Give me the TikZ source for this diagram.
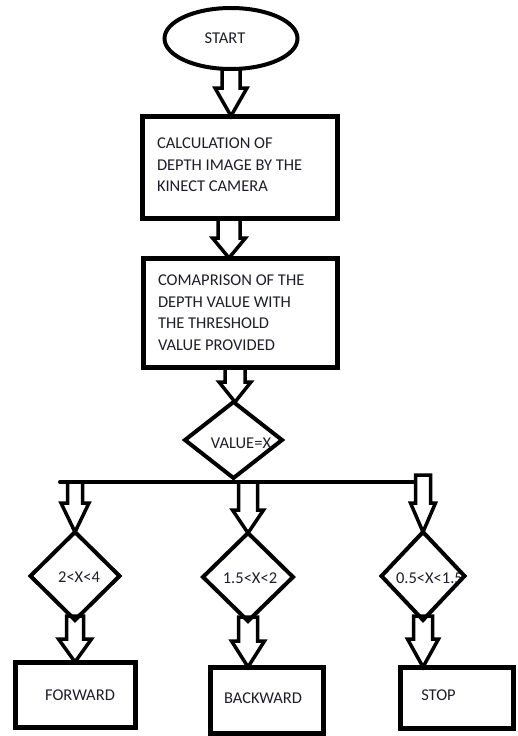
\documentclass[tikz,border=0pt]{standalone}
\usepackage{fontspec}
\setmainfont{Carlito}
\usetikzlibrary{shapes.geometric,calc}
\definecolor{textc}{RGB}{30,30,42}
\tikzset{
  bordr/.style={draw=black, line width=5pt, rectangle, inner sep=0pt, outer sep=0pt},
  dia/.style={draw=black, line width=4pt, diamond, inner sep=0pt, outer sep=0pt, line join=miter},
  ell/.style={draw=black, line width=4pt, ellipse, inner sep=0pt, outer sep=0pt},
  lbl/.style={text=textc, font=\fontsize{16.5}{21.5}\selectfont, inner sep=0pt, outer sep=0pt},
  barrow/.style={draw=black, line width=3.5pt, line join=miter, miter limit=10},
  busline/.style={draw=black, line width=4pt, line cap=round}
}
\newcommand\blockarrow[5]{%
  \draw[barrow] let \p1=(#1), \p2=(#2) in
    (\x1-#3pt,\y1) -- (\x1-#3pt,\y2+#5pt) -- (\x1-#4pt,\y2+#5pt) -- (\x1,\y2)
    -- (\x1+#4pt,\y2+#5pt) -- (\x1+#3pt,\y2+#5pt) -- (\x1+#3pt,\y1);}
\newcommand\blockarrowc[5]{%
  \draw[barrow] let \p1=(#1), \p2=(#2) in
    (\x1-#3pt,\y1) -- (\x1-#3pt,\y2+#5pt) -- (\x1-#4pt,\y2+#5pt) -- (\x1,\y2)
    -- (\x1+#4pt,\y2+#5pt) -- (\x1+#3pt,\y2+#5pt) -- (\x1+#3pt,\y1) -- cycle;}
\begin{document}
\begin{tikzpicture}[x=1pt,y=-1pt]
\useasboundingbox (0,0) rectangle (517,736);

% start
\node[ell, minimum width=133pt, minimum height=61pt] (start) at (231,38.5) {};
\node[lbl, anchor=base] (startt) at (225,43) {START};

% process boxes
\node[bordr, minimum width=195pt, minimum height=102pt] (r1) at (239.5,167) {};
\node[lbl, anchor=north west, align=left] (r1t) at (157,138)
  {CALCULATION OF\\DEPTH IMAGE BY THE\\KINECT CAMERA};

\node[bordr, minimum width=194pt, minimum height=109pt] (r2) at (240,312.5) {};
\node[lbl, anchor=north west, align=left] (r2t) at (158,275)
  {COMAPRISON OF THE\\DEPTH VALUE WITH\\THE THRESHOLD\\VALUE PROVIDED};

% decision
\node[dia, minimum width=97pt, minimum height=76pt] (d0) at (233.5,440) {};
\node[lbl, anchor=base] (d0t) at (241,448) {VALUE=X};

% branch labels (under the diamonds' borders)
\node[lbl, anchor=base] (dLt) at (79,582) {2<X<4};
\node[lbl, anchor=base] (dMt) at (250,583) {1.5<X<2};
\node[lbl, anchor=base west] (dRt) at (396,583) {0.5<X<1.5};

\node[dia, minimum width=89pt, minimum height=88pt] (dL) at (75,576) {};
\node[dia, minimum width=90pt, minimum height=88pt] (dM) at (248,577) {};
\node[dia, minimum width=83pt, minimum height=88pt] (dR) at (423,576) {};

% outcome boxes
\node[bordr, minimum width=120pt, minimum height=65pt] (rL) at (75,694.5) {};
\node[lbl, anchor=base] (rLt) at (80,700) {FORWARD};
\node[bordr, minimum width=113pt, minimum height=66pt] (rM) at (266.5,700) {};
\node[lbl, anchor=base] (rMt) at (263,703) {BACKWARD};
\node[bordr, minimum width=113pt, minimum height=61pt] (rR) at (456.5,697.5) {};
\node[lbl, anchor=base] (rRt) at (438.5,700) {STOP};

% bus
\coordinate (busL) at (60,482);
\coordinate (busR) at (415,482);
\coordinate (rtop) at (423,475);
\draw[busline] (busL) -- (busR);

% arrows
\blockarrow{start.south}{r1.north}{9}{16}{28}
\blockarrow{[xshift=-10.5pt]r1.south}{r2.north}{11}{16.5}{20}
\blockarrow{[xshift=-5pt]r2.south}{d0.north}{10}{16}{20}
\blockarrow{dL.north |- busL}{dL.north}{7.5}{14}{29}
\blockarrow{dM.north |- busL}{dM.north}{9.5}{15.5}{23}
\blockarrowc{rtop}{dR.north}{7.5}{12.5}{29}
\blockarrowc{[yshift=4pt]dL.south}{rL.north}{8.5}{16.5}{23}
\blockarrowc{[yshift=4pt]dM.south}{rM.north}{9.5}{16.5}{26}
\blockarrowc{[yshift=4pt]dR.south}{rR.north}{9.5}{15.5}{28}
\end{tikzpicture}
\end{document}
